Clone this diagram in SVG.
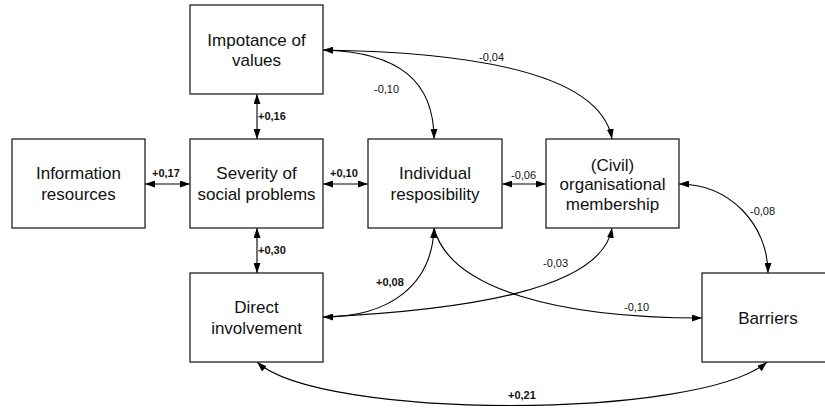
<svg xmlns="http://www.w3.org/2000/svg" width="825" height="409" viewBox="0 0 825 409">
<style>
.box{fill:#fff;stroke:#222;stroke-width:1.3}
.nt{font-family:"Liberation Sans",Arial,sans-serif;font-size:17px;fill:#111;text-anchor:middle}
.c{fill:none;stroke:#000;stroke-width:1.1}
.lb{font-family:"Liberation Sans",Arial,sans-serif;font-size:11px;fill:#111}
.b{font-weight:bold}
</style>
<defs>
<marker id="ah" viewBox="0 0 10 7" refX="10" refY="3.5" markerUnits="userSpaceOnUse" markerWidth="10" markerHeight="7" orient="auto-start-reverse">
<path d="M0,0 L10,3.5 L0,7 z" fill="#000"/>
</marker>
</defs>
<rect width="825" height="409" fill="#fff"/>
<g id="connectors">
<line class="c" x1="257" y1="94" x2="257" y2="139" marker-start="url(#ah)" marker-end="url(#ah)"/>
<line class="c" x1="257" y1="228" x2="257" y2="273" marker-start="url(#ah)" marker-end="url(#ah)"/>
<line class="c" x1="145" y1="184" x2="190" y2="184" marker-start="url(#ah)" marker-end="url(#ah)"/>
<line class="c" x1="323" y1="184" x2="368" y2="184" marker-start="url(#ah)" marker-end="url(#ah)"/>
<line class="c" x1="502" y1="184" x2="546" y2="184" marker-start="url(#ah)" marker-end="url(#ah)"/>
<path class="c" d="M323,50 C400,52 434,82 434,139" marker-end="url(#ah)"/>
<path class="c" d="M323,50 C460,52 600,70 612,139" marker-start="url(#ah)" marker-end="url(#ah)"/>
<path class="c" d="M434,228 C432,285 390,317 323,317" marker-start="url(#ah)" marker-end="url(#ah)"/>
<path class="c" d="M434,228 C450,290 560,318 702,318" marker-end="url(#ah)"/>
<path class="c" d="M323,317 C465,310 602,290 612,228" marker-end="url(#ah)"/>
<path class="c" d="M679,184 C730,184 768,225 768,273" marker-start="url(#ah)" marker-end="url(#ah)"/>
<path class="c" d="M257,362 C320,420 700,420 767,362" marker-start="url(#ah)" marker-end="url(#ah)"/>
<text class="lb b" x="258" y="120">+0,16</text>
<text class="lb b" x="258" y="254">+0,30</text>
<text class="lb b" x="152" y="177">+0,17</text>
<text class="lb b" x="330" y="177">+0,10</text>
<text class="lb" x="511" y="179">-0,06</text>
<text class="lb" x="374" y="93">-0,10</text>
<text class="lb" x="479" y="61">-0,04</text>
<text class="lb b" x="376" y="286">+0,08</text>
<text class="lb" x="543" y="267">-0,03</text>
<text class="lb" x="624" y="311">-0,10</text>
<text class="lb" x="750" y="215">-0,08</text>
<text class="lb b" x="508" y="399">+0,21</text>
</g>
<g id="n-importance">
<rect class="box" x="190" y="5" width="133" height="89"/>
<text class="nt" x="256.5" y="46">Impotance of</text>
<text class="nt" x="256.5" y="66">values</text>
</g>
<g id="n-information">
<rect class="box" x="12" y="139" width="133" height="89"/>
<text class="nt" x="78.5" y="179">Information</text>
<text class="nt" x="78.5" y="200">resources</text>
</g>
<g id="n-severity">
<rect class="box" x="190" y="139" width="133" height="89"/>
<text class="nt" x="256.5" y="179">Severity of</text>
<text class="nt" x="256.5" y="200">social problems</text>
</g>
<g id="n-individual">
<rect class="box" x="368" y="139" width="134" height="89"/>
<text class="nt" x="435" y="179">Individual</text>
<text class="nt" x="435" y="200">resposibility</text>
</g>
<g id="n-civil">
<rect class="box" x="546" y="139" width="133" height="89"/>
<text class="nt" x="612.5" y="171">(Civil)</text>
<text class="nt" x="612.5" y="190">organisational</text>
<text class="nt" x="612.5" y="210">membership</text>
</g>
<g id="n-direct">
<rect class="box" x="190" y="273" width="133" height="89"/>
<text class="nt" x="256.5" y="313">Direct</text>
<text class="nt" x="256.5" y="334">involvement</text>
</g>
<g id="n-barriers">
<rect class="box" x="702" y="273" width="133" height="89"/>
<text class="nt" x="768" y="324">Barriers</text>
</g>
</svg>
